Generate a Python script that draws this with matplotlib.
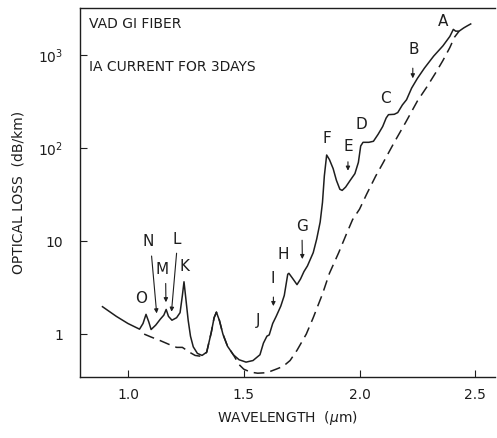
import matplotlib
matplotlib.use("Agg")
import matplotlib.pyplot as plt

# solid curve: after 1A current for 3 days
wl_solid = [0.89, 0.95, 1.00, 1.05, 1.065, 1.078, 1.09, 1.10, 1.12, 1.14, 1.155, 1.165,
            1.175, 1.19, 1.21, 1.225, 1.235, 1.242, 1.25, 1.26, 1.27, 1.282, 1.30, 1.32,
            1.34, 1.36, 1.372, 1.382, 1.395, 1.41, 1.43, 1.455, 1.48, 1.51, 1.54, 1.57,
            1.585, 1.60, 1.61, 1.625, 1.64, 1.66, 1.675, 1.69, 1.695, 1.71, 1.73, 1.745,
            1.76, 1.775, 1.80, 1.815, 1.83, 1.84, 1.848, 1.858, 1.87, 1.886, 1.90, 1.915,
            1.925, 1.94, 1.96, 1.98, 1.995, 2.005, 2.015, 2.04, 2.06, 2.08, 2.10, 2.115,
            2.125, 2.15, 2.165, 2.185, 2.203, 2.225, 2.25, 2.28, 2.32, 2.36, 2.39, 2.405,
            2.415, 2.43, 2.45, 2.465, 2.48]
loss_solid = [1.97, 1.55, 1.30, 1.13, 1.3, 1.63, 1.35, 1.12, 1.25, 1.45, 1.6, 1.84,
              1.55, 1.41, 1.5, 1.7, 2.6, 3.65, 2.4, 1.41, 0.95, 0.73, 0.62, 0.59,
              0.64, 1.05, 1.5, 1.72, 1.4, 1.0, 0.74, 0.6, 0.53, 0.50, 0.52, 0.6,
              0.8, 0.95, 0.98, 1.3, 1.55, 2.0, 2.6, 4.4, 4.5, 4.0, 3.4, 3.9,
              4.7, 5.4, 7.5, 10.5, 16, 26, 50, 84, 75, 60, 45, 36,
              35, 38, 45, 53, 70, 105, 115, 115, 118, 140, 170, 210,
              228, 230, 240, 290, 330, 440, 560, 720, 970, 1250, 1580, 1880,
              1800, 1800, 1950, 2050, 2150]

# dashed curve: before current
wl_dash = [1.07, 1.10, 1.14, 1.18, 1.21, 1.235, 1.25, 1.27, 1.29, 1.31, 1.33, 1.34,
           1.36, 1.372, 1.382, 1.395, 1.41, 1.43, 1.455, 1.48, 1.50, 1.53, 1.56, 1.60,
           1.64, 1.67, 1.70, 1.73, 1.77, 1.80, 1.84, 1.87, 1.91, 1.944, 1.97, 2.00,
           2.031, 2.07, 2.10, 2.15, 2.20, 2.25, 2.29, 2.33, 2.36, 2.39, 2.41, 2.43]
loss_dash = [1.0, 0.93, 0.85, 0.77, 0.72, 0.72, 0.68, 0.63, 0.59, 0.58, 0.60, 0.64,
             1.05, 1.5, 1.72, 1.4, 1.0, 0.74, 0.6, 0.47, 0.42, 0.39, 0.38, 0.385,
             0.42, 0.45, 0.52, 0.67, 1.0, 1.5, 2.7, 4.5, 7.5, 12, 17, 22,
             32, 50, 68, 115, 190, 320, 450, 650, 870, 1200, 1550, 1800]

# absorption peak labels: letter, text position, arrow start, arrow end (None = no arrow)
peak_labels = ["A", "B", "C", "D", "E", "F", "G", "H", "I", "J", "K", "L", "M", "N", "O"]
label_pos = [(2.362, 2280), (2.232, 1130), (2.11, 340), (2.01, 177), (1.952, 103),
             (1.858, 127), (1.75, 14.3), (1.671, 7.1), (1.625, 4.0), (1.563, 1.41),
             (1.246, 5.3), (1.21, 10.3), (1.146, 4.95), (1.088, 9.8), (1.059, 2.42)]
arrow_from = [None, (2.23, 720), None, None, (1.95, 71), None, (1.752, 10.2), None,
              (1.628, 2.5), None, None, (1.21, 7.4), (1.163, 3.5), (1.102, 6.9), None]
arrow_to = [None, (2.23, 560), None, None, (1.95, 57), None, (1.753, 6.4), None,
            (1.628, 2.0), None, None, (1.188, 1.74), (1.164, 2.2), (1.124, 1.67), None]

ink = "#1e1e1e"
fig = plt.figure(figsize=(4.97, 4.38), dpi=100)
ax = fig.add_axes([0.161, 0.139, 0.835, 0.843])

ax.plot(wl_solid, loss_solid, color=ink, lw=1.1)
ax.plot(wl_dash, loss_dash, color=ink, lw=1.1, dashes=(7, 4))

ax.set_yscale("log")
ax.set_xlim(0.793, 2.585)
ax.set_ylim(0.345, 3200)
ax.set_xticks([1.0, 1.5, 2.0, 2.5])
ax.set_xticklabels(["1.0", "1.5", "2.0", "2.5"])
ax.set_yticks([1, 10, 100, 1000])
ax.set_yticklabels(["1", "10", "10$^2$", "10$^3$"])
ax.minorticks_off()
ax.tick_params(direction="in", length=5, width=0.8, labelsize=10, colors=ink, pad=12)
ax.tick_params(axis="x", pad=8)
ax.spines["right"].set_visible(False)
for s in ["left", "top", "bottom"]:
    ax.spines[s].set_linewidth(1.0)
    ax.spines[s].set_color(ink)

ax.set_xlabel("WAVELENGTH  ($\\mu$m)", fontsize=10, color=ink, labelpad=5)
ax.set_ylabel("OPTICAL LOSS  (dB/km)", fontsize=10, color=ink, labelpad=9)

ax.text(0.021, 0.955, "VAD GI FIBER", transform=ax.transAxes, fontsize=10,
        color=ink, va="center")
ax.text(0.021, 0.84, "IA CURRENT FOR 3DAYS", transform=ax.transAxes, fontsize=10,
        color=ink, va="center")

for lab, pos, a0, a1 in zip(peak_labels, label_pos, arrow_from, arrow_to):
    ax.text(pos[0], pos[1], lab, fontsize=11, color=ink, ha="center", va="center")
    if a0 is not None:
        ax.annotate("", xy=a1, xytext=a0,
                    arrowprops=dict(arrowstyle="-|>", lw=0.8, color=ink,
                                    mutation_scale=6, shrinkA=0, shrinkB=0))

fig.savefig("out.png", dpi=100)
